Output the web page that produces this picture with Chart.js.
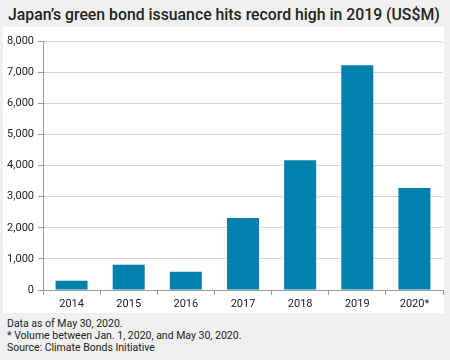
<!DOCTYPE html>
<html>
<head>
<meta charset="utf-8">
<script src="https://cdn.jsdelivr.net/npm/chart.js@4"></script>
<style>
  html, body { margin: 0; padding: 0; }
  body { width: 450px; height: 360px; background: #f0f0f0; position: relative; overflow: hidden;
         font-family: "Roboto", "Liberation Sans", sans-serif; color: #222; }
  #title { position: absolute; left: 8px; top: 5px; font-size: 15.8px; font-weight: 500; white-space: nowrap; }
  #panel { position: absolute; left: 3px; top: 27px; width: 441px; height: 286px; background: #fff; }
  #notes { position: absolute; left: 7px; top: 318px; font-size: 10.5px; line-height: 12px; }
</style>
</head>
<body>
<div id="title">Japan’s green bond issuance hits record high in 2019 (US$M)</div>
<div id="panel"><canvas id="barChart" width="441" height="286"></canvas></div>
<div id="notes">
  Data as of May 30, 2020.<br>
  * Volume between Jan. 1, 2020, and May 30, 2020.<br>
  Source: Climate Bonds Initiative
</div>
<script>
const years = ['2014', '2015', '2016', '2017', '2018', '2019', '2020*'];
const issuance = [300, 810, 590, 2310, 4170, 7220, 3280];
const yTicks = [0, 1000, 2000, 3000, 4000, 5000, 6000, 7000, 8000];

document.addEventListener("DOMContentLoaded", function () {
    var ctx = document.getElementById('barChart').getContext('2d');
    new Chart(ctx, {
        type: 'bar',
        data: {
            labels: years,
            datasets: [{
                label: 'Issuance',
                data: issuance,
                backgroundColor: '#0080ad',
                barPercentage: 0.56,
                categoryPercentage: 1
            }]
        },
        options: {
            responsive: false,
            animation: false,
            layout: { padding: { top: 14, right: 1, left: 0, bottom: 0 } },
            plugins: { legend: { display: false }, tooltip: { enabled: false } },
            scales: {
                x: {
                    grid: { drawOnChartArea: false, drawTicks: true, tickLength: 5, tickColor: '#999', offset: true },
                    border: { color: '#999' },
                    ticks: { color: '#222', font: { family: 'Roboto', size: 11 }, padding: 3 },
                    afterFit: function (s) { s.height = 23; }
                },
                y: {
                    min: 0,
                    max: 8000,
                    afterBuildTicks: function (s) { s.ticks = yTicks.map(v => ({ value: v })); },
                    grid: { color: '#d6d6d6', tickLength: 5, tickColor: '#999' },
                    border: { color: '#999' },
                    ticks: {
                        color: '#222', font: { family: 'Roboto', size: 11 }, padding: 4,
                        callback: v => v.toLocaleString('en-US')
                    },
                    afterFit: function (s) { s.width = 40; }
                }
            }
        }
    });
});
</script>
</body>
</html>
